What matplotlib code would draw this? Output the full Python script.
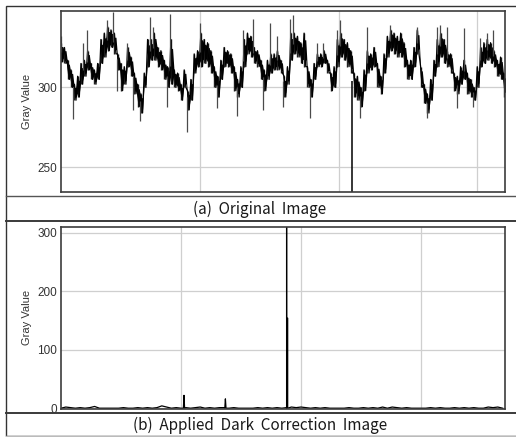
import matplotlib
matplotlib.use("Agg")
import matplotlib.pyplot as plt
from matplotlib.lines import Line2D
from matplotlib.patches import Rectangle
import numpy as np


# (a) original profile: upper and lower edge of the dense trace, read every ~2.4 px units
orig_hi = [
    328, 325, 317, 311, 302, 307, 315, 317, 323, 315, 311, 315, 330, 334, 338,
    336, 334, 321, 315, 313, 325, 319, 309, 302, 296, 309, 330, 330, 334, 325,
    323, 317, 313, 330, 311, 309, 302, 311, 298, 305, 321, 323, 334, 330, 328,
    323, 313, 307, 317, 325, 323, 321, 313, 305, 313, 330, 334, 332, 325, 323,
    317, 311, 317, 321, 321, 323, 317, 307, 313, 334, 334, 332, 328, 334, 313,
    305, 315, 321, 321, 323, 317, 309, 313, 330, 334, 330, 328, 323, 309, 307,
    300, 311, 323, 321, 325, 315, 307, 321, 332, 336, 334, 332, 334, 328, 317,
    317, 325, 336, 313, 302, 296, 305, 317, 330, 334, 330, 323, 321, 309, 307,
    313, 317, 309, 305, 300, 313, 325, 328, 330, 328, 323, 317, 319, 309,
]
orig_lo = [
    316, 315, 305, 300, 292, 294, 302, 307, 311, 305, 302, 305, 315, 319, 323,
    325, 321, 311, 298, 302, 313, 307, 296, 288, 284, 300, 313, 317, 317, 313,
    311, 305, 300, 302, 300, 298, 292, 300, 286, 292, 309, 313, 313, 315, 313,
    309, 300, 294, 305, 313, 313, 309, 298, 294, 300, 313, 321, 319, 315, 313,
    305, 298, 305, 309, 311, 311, 309, 294, 302, 317, 321, 319, 315, 313, 300,
    294, 305, 313, 313, 315, 309, 298, 300, 313, 319, 317, 313, 309, 294, 292,
    288, 298, 309, 311, 313, 300, 296, 309, 319, 323, 321, 319, 319, 313, 305,
    305, 313, 321, 300, 290, 284, 292, 307, 313, 319, 315, 313, 309, 298, 296,
    302, 305, 296, 294, 292, 300, 313, 315, 317, 315, 313, 307, 305, 294,
]
orig_step = 2.4

# single-sample outliers sticking out of the trace
orig_spike_x = [
    0.0, 8.7, 15.9, 18.7, 33.2, 37.5, 40.4, 47.6, 51.9, 57.0, 64.2, 66.3,
    76.4, 78.6, 90.8, 100.2, 112.5, 126.9, 131.2, 138.4, 145.6, 150.7, 155.7,
    160.1, 165.1, 167.3, 179.5, 184.6, 188.9, 199.0, 201.2, 215.6, 220.6,
    237.2, 256.7, 263.9, 271.1, 273.3, 278.3, 285.5, 290.6, 297.0, 302.1,
    307.1, 311.0,
]
orig_spike_val = [
    332, 280, 328, 336, 342, 347, 298, 328, 286, 279, 344, 338,
    288, 346, 272, 340, 287, 282, 336, 343, 286, 340, 332,
    288, 343, 345, 281, 328, 328, 336, 342, 281, 338,
    339, 338, 281, 338, 339, 338, 287, 337, 288, 331,
    334, 336,
]
# the dead pixel that drops below the axis
orig_dip_x = 209.6
orig_dip_val = 225

# (b) after dark correction
corr_x = np.arange(0, 372, 4)
corr_val = [
    0, 2, 1, 0, 1, 0, 1, 3, 0, 0, 0, 0, 0, 1, 0, 0, 1, 0, 1, 0, 1, 4, 2,
    0, 1, 0, 1, 0, 1, 2, 0, 1, 0, 1, 1, 0, 1, 0, 0, 0, 0, 1, 0, 1, 0, 1,
    0, 1, 2, 1, 2, 1, 0, 1, 0, 1, 0, 0, 0, 0, 1, 0, 0, 1, 0, 1, 0, 2, 0,
    2, 1, 0, 1, 0, 0, 0, 0, 1, 0, 1, 0, 0, 1, 0, 1, 0, 1, 0, 0, 2, 1, 2, 0,
]
corr_spike_x = [102.0, 102.5, 103.0, 136.5, 137.0, 137.5, 188.0, 188.0, 188.0, 188.9, 188.9]
corr_spike_val = [0, 22, 0, 0, 16, 0, 0, 330, 154, 154, 0]

W, H = 516, 437
SPINE = "#3c3c3c"
GRID = "#cfcfcf"


def fy(y_px):
    return 1 - y_px / H


def fx(x_px):
    return x_px / W


def style_axes(ax, yticks, ylim, xlim, xgrid):
    ax.set_xlim(*xlim)
    ax.set_ylim(*ylim)
    ax.set_yticks(yticks)
    ax.set_xticks(xgrid)
    ax.set_xticklabels([])
    ax.tick_params(length=0, pad=3, labelcolor="#333333")
    for lab in ax.get_yticklabels():
        lab.set_fontfamily("Liberation Sans")
        lab.set_fontsize(8.5)
    ax.grid(True, color=GRID, linewidth=0.9)
    ax.set_axisbelow(True)
    for sp in ax.spines.values():
        sp.set_color(SPINE)
        sp.set_linewidth(1.2)
    ax.set_ylabel("Gray Value", family="Liberation Sans", size=8, color="#333333")
    ax.yaxis.set_label_coords(-0.066, 0.5)


fig = plt.figure(figsize=(W / 100, H / 100), dpi=100)

left, width = fx(61), 444 / W
ax_a = fig.add_axes([left, fy(192), width, 181.3 / H])
ax_b = fig.add_axes([left, fy(408.5), width, 181.5 / H])

# panel (a): dense trace drawn as a filled band with a zigzag edge
hi = np.array(orig_hi, dtype=float)
lo = np.array(orig_lo, dtype=float)
xs = np.arange(len(hi)) * orig_step
mid = (hi + lo) / 2
zig_x = np.column_stack([xs, xs + orig_step / 2]).ravel()
zig_y = np.column_stack([hi, lo]).ravel()
zig_mid = np.column_stack([mid, mid]).ravel()
zig_half = np.column_stack([hi - lo, hi - lo]).ravel() * 0.3
ax_a.fill_between(zig_x, zig_mid - zig_half, zig_mid + zig_half,
                  color="black", linewidth=0)
ax_a.vlines(xs, lo, hi, color="#202020", linewidth=1.0)
ax_a.plot(zig_x, zig_y, color="black", linewidth=0.9)
base = np.interp(orig_spike_x, xs, mid)
ax_a.vlines(orig_spike_x, base, orig_spike_val, color="#4a4a4a", linewidth=0.9)
ax_a.vlines([orig_dip_x], [np.interp(orig_dip_x, xs, lo)], [orig_dip_val],
            color="black", linewidth=1.1)
style_axes(ax_a, [250, 300], (234.6, 348), (0, 320), [100, 200, 300])

# panel (b)
bx = np.concatenate([corr_x, corr_spike_x])
by = np.concatenate([np.array(corr_val, dtype=float), corr_spike_val])
order = np.argsort(bx, kind="stable")
ax_b.plot(bx[order], by[order], color="black", linewidth=0.9)
style_axes(ax_b, [0, 100, 200, 300], (-0.5, 310), (0, 370), [100, 200, 300])

# table frame around the two panels and their captions
fig.add_artist(Rectangle((fx(5.5), fy(435.5)), fx(510), fy(412.5) - fy(435.5),
                         transform=fig.transFigure, facecolor="white", edgecolor="none",
                         zorder=5))
fig.add_artist(Rectangle((fx(5.5), fy(436)), fx(511), fy(5.5) - fy(436),
                         transform=fig.transFigure, facecolor="none", edgecolor="#333333",
                         linewidth=1.0, zorder=6))
for y_px, col, lw in [(196.5, "#555555", 1.0), (221, "#3a3a3a", 1.4),
                      (412.5, "#3a3a3a", 1.4), (435.5, "#bbbbbb", 1.0)]:
    fig.add_artist(Line2D([fx(5.5), 1.0], [fy(y_px), fy(y_px)], transform=fig.transFigure,
                          color=col, linewidth=lw, zorder=6))

cap_font = dict(family=["Noto Sans CJK KR", "DejaVu Sans"], size=11, color="#1a1a1a",
                ha="center", va="center", zorder=7)
fig.text(fx(260), fy(209), "(a)  Original  Image", **cap_font)
fig.text(fx(260), fy(425), "(b)  Applied  Dark  Correction  Image", **cap_font)

fig.savefig("out.png", dpi=100)
plt.close(fig)
